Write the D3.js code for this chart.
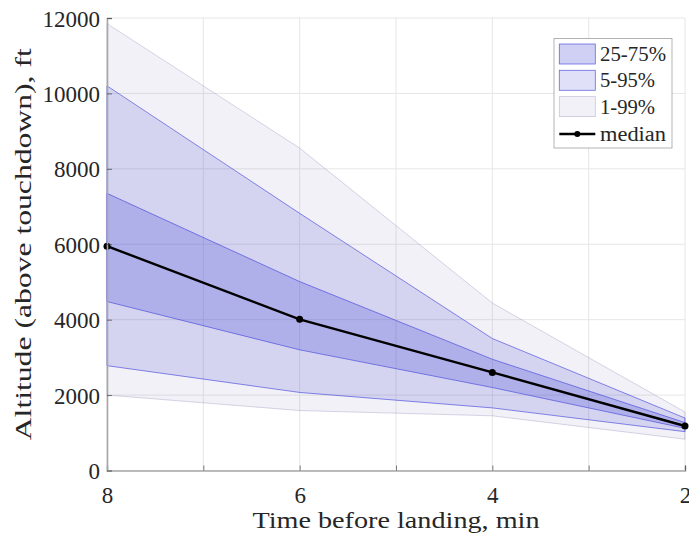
<!DOCTYPE html>
<meta charset="utf-8">
<script src="https://d3js.org/d3.v7.min.js"></script>
<style>
  body { margin: 0; background: #fff; }
  text { font-family: "Liberation Serif", "Times New Roman", serif; fill: #262626; }
</style>
<div id="chart"></div>
<script>
// time before landing (min)
const times = [8, 6, 4, 2];
// altitude percentiles (ft above touchdown)
const p1  = [2000, 1590, 1450, 830];
const p99 = [11850, 8550, 4440, 1550];
const p5  = [2780, 2070, 1660, 1030];
const p95 = [10200, 6820, 3500, 1390];
const p25 = [4480, 3200, 2200, 1120];
const p75 = [7350, 5010, 2950, 1270];
const median = [5950, 4010, 2600, 1180];

const xTicks = [8, 7, 6, 5, 4, 3, 2];
const xLabels = [8, 6, 4, 2];
const yTicks = [0, 2000, 4000, 6000, 8000, 10000, 12000];

const W = 689, H = 535;
const margin = {top: 18, right: 4, bottom: 64.5, left: 107};
const width = W - margin.left - margin.right,
      height = H - margin.top - margin.bottom;

const svg = d3.select("#chart").append("svg")
  .attr("width", W).attr("height", H);
const g = svg.append("g").attr("transform", `translate(${margin.left},${margin.top})`);

const x = d3.scaleLinear().domain([8, 2]).range([0, width]);
const y = d3.scaleLinear().domain([0, 12000]).range([height, 0]);

// grid
g.append("g").selectAll("line").data(xTicks).join("line")
  .attr("x1", d => x(d)).attr("x2", d => x(d))
  .attr("y1", 0).attr("y2", height)
  .attr("stroke", "#e6e6e6").attr("stroke-width", 1);
g.append("g").selectAll("line").data(yTicks).join("line")
  .attr("x1", 0).attr("x2", width)
  .attr("y1", d => y(d)).attr("y2", d => y(d))
  .attr("stroke", "#e6e6e6").attr("stroke-width", 1);

// bands
const bands = [
  {name: "1-99%", lo: p1, hi: p99, fill: "rgba(128,128,178,0.11)", stroke: "rgba(128,128,178,0.4)", tl: 55},
  {name: "5-95%", lo: p5, hi: p95, fill: "rgba(60,60,210,0.16)", stroke: "rgba(60,60,220,0.75)", tl: 55},
  {name: "25-75%", lo: p25, hi: p75, fill: "rgba(60,60,210,0.24)", stroke: "rgba(60,60,220,0.75)", tl: 66}
];
const area = d3.area()
  .x((d, i) => x(times[i]))
  .y0(d => y(d[0])).y1(d => y(d[1]));
bands.forEach(b => {
  const pts = times.map((t, i) => [b.lo[i], b.hi[i]]);
  g.append("path").datum(pts)
    .attr("d", area)
    .attr("fill", b.fill)
    .attr("stroke", b.stroke)
    .attr("stroke-width", 0.8);
});

// median
const line = d3.line().x((d, i) => x(times[i])).y(d => y(d));
g.append("path").datum(median)
  .attr("d", line)
  .attr("fill", "none").attr("stroke", "#000").attr("stroke-width", 2.4);
g.selectAll(".mk").data(median).join("circle")
  .attr("cx", (d, i) => x(times[i])).attr("cy", d => y(d))
  .attr("r", 3.5).attr("fill", "#000");

// axes
const xAxis = g.append("g").attr("transform", `translate(0,${height})`)
  .call(d3.axisBottom(x).tickValues(xTicks)
    .tickFormat(d => xLabels.includes(d) ? d : "")
    .tickSize(-5).tickPadding(16));
const yAxis = g.append("g")
  .call(d3.axisLeft(y).tickValues(yTicks).tickFormat(d3.format("d"))
    .tickSize(-5).tickPadding(7));
[xAxis, yAxis].forEach(a => {
  a.select(".domain").attr("stroke", "#a8a8a8").attr("stroke-width", 1.6);
  a.selectAll(".tick line").attr("stroke", "#262626").attr("stroke-width", 0.6);
  a.selectAll("text").style("font-family", "Liberation Serif, serif")
    .style("font-size", "23px").attr("fill", "#262626");
});
xAxis.selectAll("text").attr("dy", "0.71em");
yAxis.selectAll("text").attr("dy", "0.35em");

// axis titles
svg.append("text")
  .attr("x", margin.left + width / 2).attr("y", 528)
  .attr("text-anchor", "middle").style("font-size", "24px")
  .attr("textLength", 287).attr("lengthAdjust", "spacingAndGlyphs")
  .text("Time before landing, min");
svg.append("text")
  .attr("transform", `translate(31,${margin.top + height / 2}) rotate(-90)`)
  .attr("text-anchor", "middle").style("font-size", "24px")
  .attr("textLength", 392).attr("lengthAdjust", "spacingAndGlyphs")
  .text("Altitude (above touchdown), ft");

// legend
const lg = svg.append("g").attr("transform", "translate(554,38.5)");
lg.append("rect").attr("width", 118).attr("height", 109.5)
  .attr("fill", "#fff").attr("stroke", "#a0a0a0").attr("stroke-width", 0.8);
const legItems = [bands[2], bands[1], bands[0]];
legItems.forEach((b, i) => {
  const yy = 5.5 + i * 26.3;
  lg.append("rect").attr("x", 5.3).attr("y", yy).attr("width", 36).attr("height", 20)
    .attr("fill", b.fill).attr("stroke", b.stroke).attr("stroke-width", 0.8);
  lg.append("text").attr("x", 46).attr("y", yy + 10).attr("dy", "0.35em")
    .style("font-size", "20px")
    .attr("textLength", b.tl).attr("lengthAdjust", "spacingAndGlyphs")
    .text(b.name);
});
lg.append("line").attr("x1", 5.3).attr("x2", 41.3).attr("y1", 95.5).attr("y2", 95.5)
  .attr("stroke", "#000").attr("stroke-width", 2.4);
lg.append("circle").attr("cx", 23.3).attr("cy", 95.5).attr("r", 3).attr("fill", "#000");
lg.append("text").attr("x", 46).attr("y", 95.5).attr("dy", "0.35em")
  .style("font-size", "20px")
  .attr("textLength", 66).attr("lengthAdjust", "spacingAndGlyphs")
  .text("median");
</script>
